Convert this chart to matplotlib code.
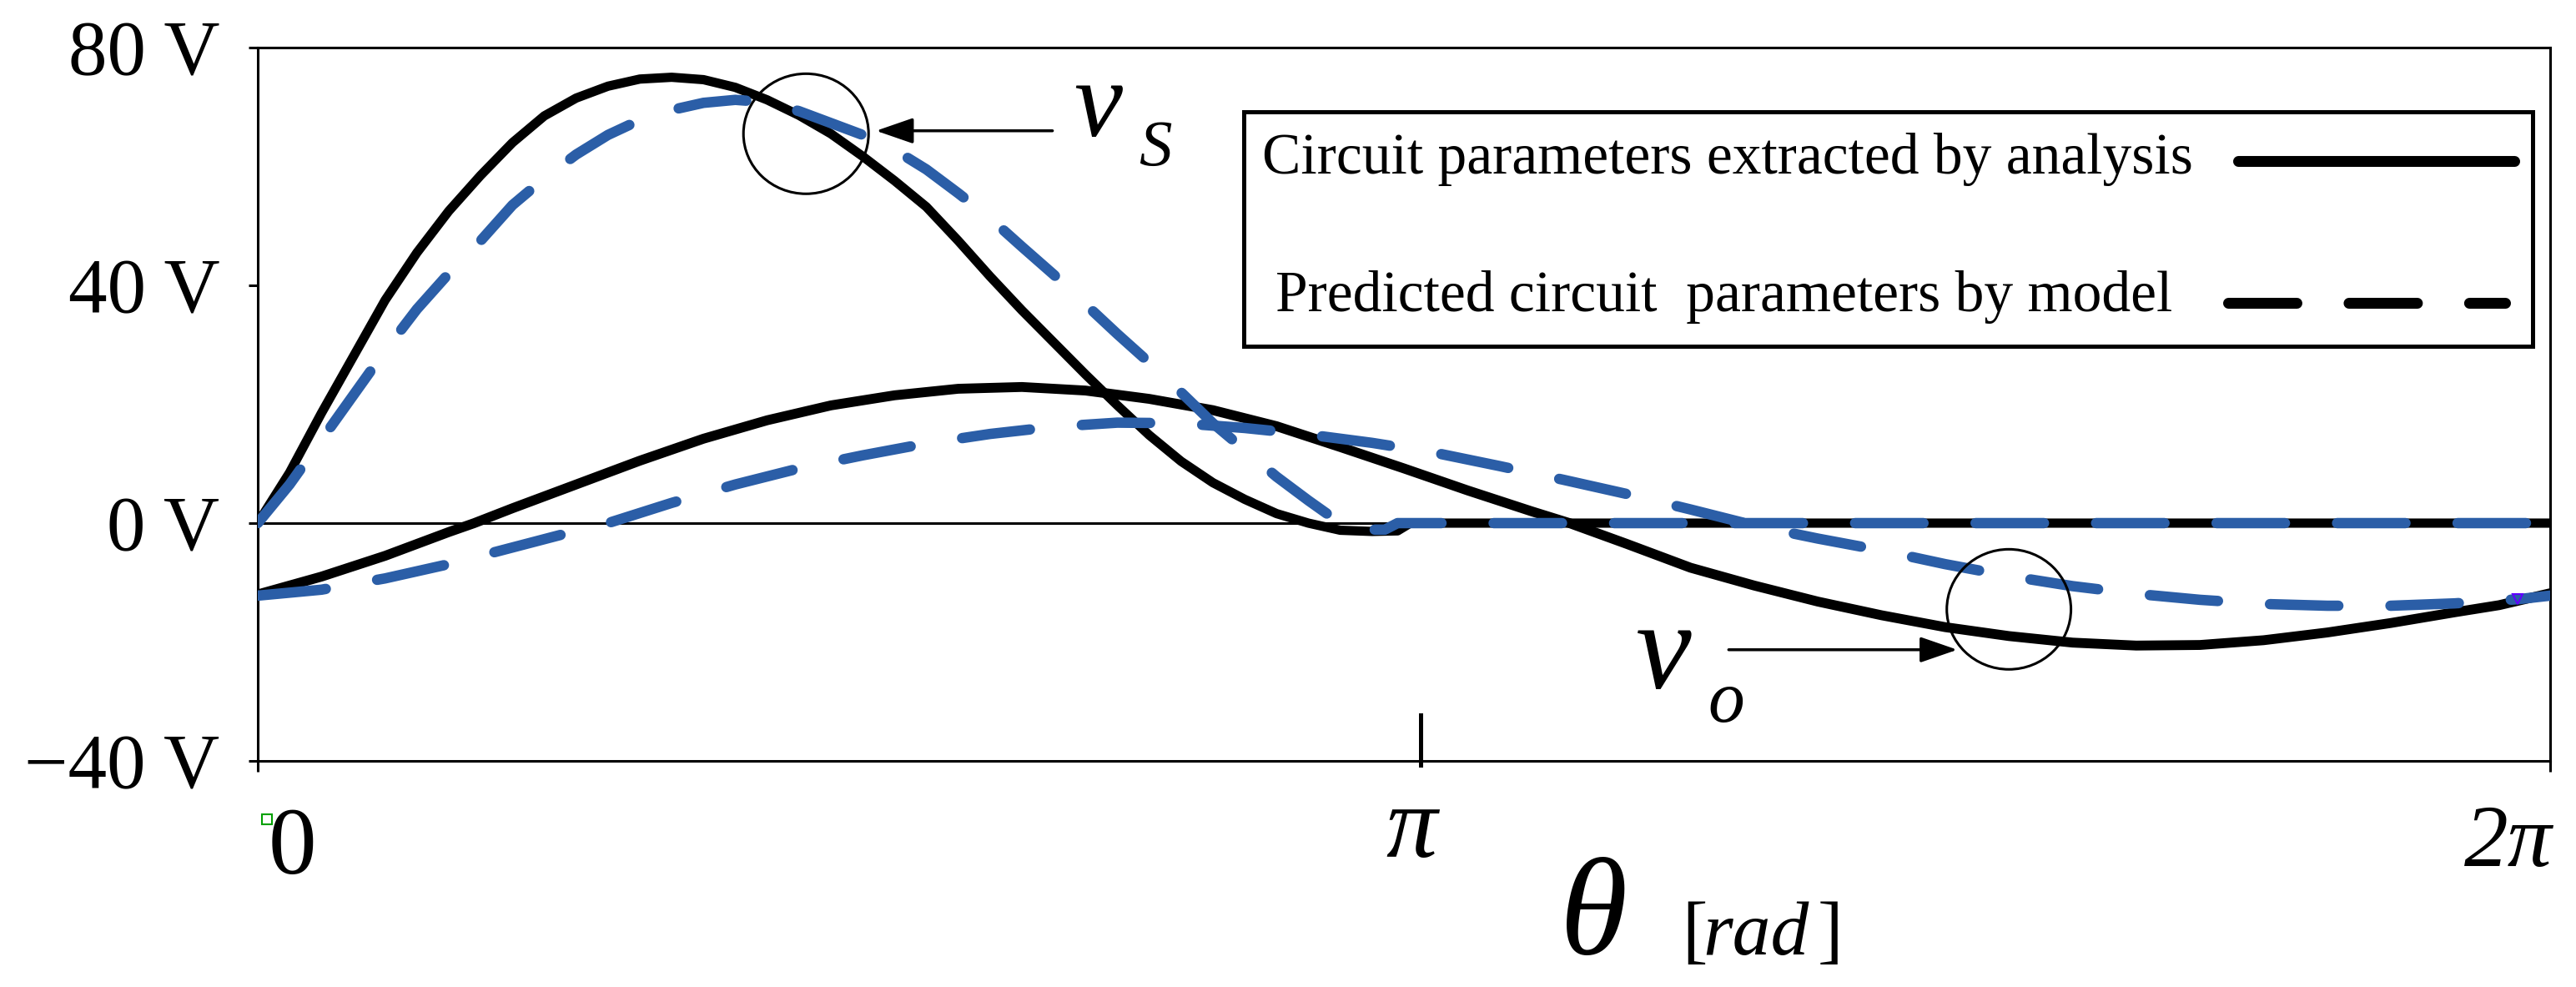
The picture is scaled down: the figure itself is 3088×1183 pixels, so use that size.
import numpy as np
import matplotlib
matplotlib.use("Agg")
import matplotlib.pyplot as plt
from matplotlib.patches import Ellipse, Rectangle
from matplotlib.lines import Line2D

plt.rcParams['font.family'] = ['Liberation Serif', 'DejaVu Serif']
plt.rcParams['lines.scale_dashes'] = False

# theta in degrees, voltages in volts
vs_ana_deg = [0, 5, 10, 15, 20, 25, 30, 35, 40, 45, 50, 55, 60, 65, 70, 75, 80, 85, 90, 95,
              100, 105, 110, 115, 120, 125, 130, 135, 140, 145, 150, 155, 160, 165, 170,
              175, 179, 181, 360]
vs_ana_v = [0, 8.5, 18.5, 28, 37.5, 45.5, 52.5, 58.5, 64, 68.5, 71.5, 73.5, 74.7, 75, 74.6,
            73.3, 71.2, 68.6, 65.5, 61.7, 57.6, 53.2, 47.5, 41.5, 35.8, 30.4, 25, 19.8,
            14.8, 10.4, 6.8, 4, 1.6, 0, -1.2, -1.4, -1.3, 0, 0]

vs_mod_deg = [0, 5, 10, 15, 20, 25, 30, 35, 40, 45, 50, 55, 60, 65, 70, 75, 80, 85, 90, 95,
              100, 105, 110, 115, 120, 125, 130, 135, 140, 145, 150, 155, 160, 165, 170,
              173, 177, 179, 360]
vs_mod_v = [0, 6.5, 14, 21.5, 29, 36, 42, 47.5, 53.5, 58, 62, 65.3, 67.8, 69.5, 70.7, 71.2,
            70.8, 69.3, 67.3, 65.3, 62.8, 59.5, 55.5, 51.3, 46.5, 41.8, 36.8, 31.8, 27, 22,
            16.8, 12.3, 7.8, 3.8, 0, -1.1, -1.1, 0, 0]

vo_ana_deg = [0, 10, 20, 30, 34, 40, 50, 60, 70, 80, 90, 100, 110, 120, 130, 140, 150, 160,
              170, 180, 190, 200, 206, 215, 225, 235, 245, 255, 265, 275, 285, 295, 305,
              315, 325, 335, 345, 352, 360]
vo_ana_v = [-12, -9, -5.5, -1.5, 0, 2.5, 6.5, 10.5, 14.2, 17.3, 19.8, 21.5, 22.6, 22.9, 22.3,
            20.9, 19, 16.3, 12.8, 9.2, 5.5, 2, 0, -3.5, -7.5, -10.5, -13.2, -15.5, -17.5,
            -19, -20.1, -20.6, -20.5, -19.7, -18.4, -16.8, -15, -13.8, -11.8]

vo_mod_deg = [0, 10, 20, 30, 40, 50, 55, 65, 75, 85, 95, 105, 115, 125, 135, 145, 155, 165,
              175, 185, 195, 205, 215, 225, 235, 245, 255, 265, 275, 285, 295, 305, 315,
              325, 335, 345, 355, 360]
vo_mod_v = [-12.2, -11.2, -9.3, -6.9, -4.1, -1.3, 0, 3.4, 6.5, 9.2, 11.4, 13.4, 15, 16.2,
            16.9, 16.8, 16, 14.9, 13.5, 11.8, 9.6, 7.3, 4.9, 2.3, -0.4, -2.6, -4.6, -6.9,
            -8.9, -10.6, -11.9, -12.9, -13.6, -13.9, -13.9, -13.5, -12.8, -12.2]

y_ticks = [-40, 0, 40, 80]
y_tick_labels = ['\u221240 V', '0 V', '40 V', '80 V']
legend_labels = ['Circuit parameters extracted by analysis',
                 'Predicted circuit  parameters by model']

blue = '#2B5EA7'
dash = (0, (59, 45))

fig = plt.figure(figsize=(30.88, 11.83), dpi=100)
ax = fig.add_axes([0.10006, 0.22908, 0.8899, 0.72274])

ax.axhline(0, color='k', lw=2.2, zorder=1)

ax.plot(np.deg2rad(vs_ana_deg), vs_ana_v, color='k', lw=8, zorder=2,
        solid_capstyle='round', solid_joinstyle='round')
ax.plot(np.deg2rad(vo_ana_deg), vo_ana_v, color='k', lw=8.5, zorder=2,
        solid_capstyle='round', solid_joinstyle='round')
ax.plot(np.deg2rad(vs_mod_deg), vs_mod_v, color=blue, lw=9, ls=dash, zorder=3,
        dash_capstyle='round', dash_joinstyle='round')
ax.plot(np.deg2rad(vo_mod_deg), vo_mod_v, color=blue, lw=9, ls=dash, zorder=3,
        dash_capstyle='round', dash_joinstyle='round')

ax.set_xlim(0, 2 * np.pi)
ax.set_ylim(-40, 80)
for s in ax.spines.values():
    s.set_linewidth(2.2)

ax.set_yticks(y_ticks)
ax.set_yticklabels(y_tick_labels, fontsize=67)
ax.tick_params(axis='y', direction='out', length=8, width=2.2, pad=25)
ax.set_xticks([0, 2 * np.pi])
ax.set_xticklabels(['', ''])
ax.tick_params(axis='x', direction='out', length=9, width=2.2)

# x tick labels and the pi mark
ax.text(np.deg2rad(5.4), -58.9, '0', fontsize=83, ha='center', va='baseline')
ax.text(np.deg2rad(181.2), -56.1, '\u03c0', fontsize=88, style='italic',
        ha='center', va='baseline')
ax.text(np.deg2rad(360.3), -57.7, '2\u03c0', fontsize=76, style='italic',
        ha='right', va='baseline')
ax.plot([np.deg2rad(182.6)] * 2, [-32.3, -40.7], color='k', lw=3.6, clip_on=False,
        zorder=5)

# axis title: theta [rad]
ax.text(np.deg2rad(204.5), -72.4, '\u03b8', fontsize=119, style='italic',
        ha='left', va='baseline')
ax.text(np.deg2rad(223.6), -72.6, '[', fontsize=66, ha='left', va='baseline')
ax.text(np.deg2rad(227.0), -72.6, 'rad', fontsize=66, style='italic', ha='left',
        va='baseline')
ax.text(np.deg2rad(245.0), -72.6, ']', fontsize=66, ha='left', va='baseline')

# circles, arrows and labels
ax.add_patch(Ellipse((np.deg2rad(86.1), 65.5), np.deg2rad(19.65), 20.2,
                     fill=False, lw=2.2, ec='k', zorder=4))
ax.add_patch(Ellipse((np.deg2rad(275), -14.5), np.deg2rad(19.5), 20.2,
                     fill=False, lw=2.2, ec='k', zorder=4))
arrow = dict(arrowstyle='-|>,head_length=0.55,head_width=0.19', color='k', lw=2.5,
             mutation_scale=50, shrinkA=0, shrinkB=0)
ax.annotate('', xy=(np.deg2rad(97.1), 66.0), xytext=(np.deg2rad(124.8), 66.0),
            arrowprops=arrow, zorder=4)
ax.annotate('', xy=(np.deg2rad(266.9), -21.3), xytext=(np.deg2rad(231), -21.3),
            arrowprops=arrow, zorder=4)
ax.text(np.deg2rad(128.1), 65.1, 'v', fontsize=94, style='italic', ha='left', va='baseline')
ax.text(np.deg2rad(138.3), 60.2, 'S', fontsize=57, style='italic', ha='left', va='baseline')
ax.text(np.deg2rad(216.4), -27.8, 'v', fontsize=108, style='italic', ha='left',
        va='baseline')
ax.text(np.deg2rad(227.7), -33.4, 'o', fontsize=63, style='italic', ha='left',
        va='baseline')

# stray markers present in the original
ax.plot(np.deg2rad(1.4), -49.8, marker='s', ms=9, mfc='none', mec='#00A000', mew=1.5,
        clip_on=False)
ax.plot(np.deg2rad(354.9), -12.8, marker='v', ms=9, mfc='none', mec='#6000FF', mew=1.5,
        zorder=6)

# legend box
ax.add_patch(Rectangle((0.4301, 0.5813), 0.5623, 0.3286, transform=ax.transAxes,
                       fc='white', ec='k', lw=3.6, zorder=6))
ax.text(0.4381, 0.8234, legend_labels[0], fontsize=50, transform=ax.transAxes,
        ha='left', va='baseline', zorder=7)
ax.text(0.4440, 0.6304, legend_labels[1], fontsize=50, transform=ax.transAxes,
        ha='left', va='baseline', zorder=7)
ax.add_line(Line2D([0.8639, 0.9843], [0.8409, 0.8409], transform=ax.transAxes,
                   color='k', lw=9.4, solid_capstyle='round', zorder=7))
ax.add_line(Line2D([0.8595, 0.9803], [0.6421, 0.6421], transform=ax.transAxes,
                   color='k', lw=9.4, ls=dash, dash_capstyle='round', zorder=7))

fig.savefig('out.png', dpi=100)
